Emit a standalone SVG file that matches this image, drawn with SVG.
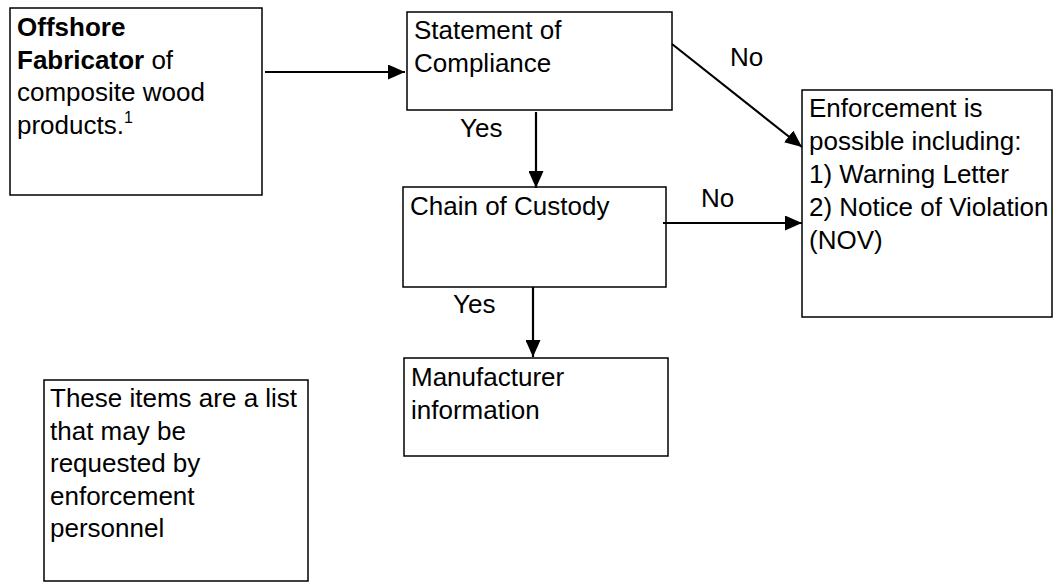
<svg xmlns="http://www.w3.org/2000/svg" width="1063" height="585" viewBox="0 0 1063 585">
<style>
.box{fill:#fff;stroke:#000;stroke-width:1.5}
.t{font-family:"Liberation Sans",Arial,sans-serif;font-size:26px;fill:#000}
.b{font-weight:bold}
.c{stroke:#000;stroke-width:2.2;fill:none}
</style>
<defs>
<marker id="ah" viewBox="0 0 17 15" refX="17" refY="7.5" markerWidth="17" markerHeight="15" markerUnits="userSpaceOnUse" orient="auto">
<path d="M0,0 L17,7.5 L0,15 z" fill="#000"/>
</marker>
</defs>
<rect width="1063" height="585" fill="#fff"/>
<g id="offshore">
<rect class="box" x="10" y="8" width="252" height="187"/>
<text class="t" x="17" y="36"><tspan class="b">Offshore</tspan></text>
<text class="t" x="17" y="68.5"><tspan class="b">Fabricator</tspan> of</text>
<text class="t" x="17" y="101">composite wood</text>
<text class="t" x="17" y="133.5">products.<tspan font-size="16" dy="-11">1</tspan></text>
</g>
<g id="statement">
<rect class="box" x="407" y="12" width="265" height="98"/>
<text class="t" x="414" y="39">Statement of</text>
<text class="t" x="414" y="71.5">Compliance</text>
</g>
<g id="enforcement">
<rect class="box" x="802" y="90" width="250" height="227"/>
<text class="t" x="809" y="117">Enforcement is</text>
<text class="t" x="809" y="150">possible including:</text>
<text class="t" x="809" y="183">1) Warning Letter</text>
<text class="t" x="809" y="216">2) Notice of Violation</text>
<text class="t" x="809" y="249">(NOV)</text>
</g>
<g id="chain">
<rect class="box" x="403" y="187" width="263" height="100"/>
<text class="t" x="410" y="215">Chain of Custody</text>
</g>
<g id="manufacturer">
<rect class="box" x="404" y="358" width="264" height="98"/>
<text class="t" x="411" y="386">Manufacturer</text>
<text class="t" x="411" y="418.5">information</text>
</g>
<g id="note">
<rect class="box" x="44" y="380" width="264" height="201"/>
<text class="t" x="50" y="407">These items are a list</text>
<text class="t" x="50" y="439.5">that may be</text>
<text class="t" x="50" y="472">requested by</text>
<text class="t" x="50" y="504.5">enforcement</text>
<text class="t" x="50" y="537">personnel</text>
</g>
<g id="connectors">
<path class="c" d="M265,72 L405,72" marker-end="url(#ah)"/>
<path class="c" d="M672,44 L802,147" marker-end="url(#ah)"/>
<path class="c" d="M536,112 L536,188" marker-end="url(#ah)"/>
<path class="c" d="M663,223 L802,223" marker-end="url(#ah)"/>
<path class="c" d="M533,287 L533,357" marker-end="url(#ah)"/>
<text class="t" x="730" y="66">No</text>
<text class="t" x="460" y="137">Yes</text>
<text class="t" x="701" y="207">No</text>
<text class="t" x="453" y="313">Yes</text>
</g>
</svg>
